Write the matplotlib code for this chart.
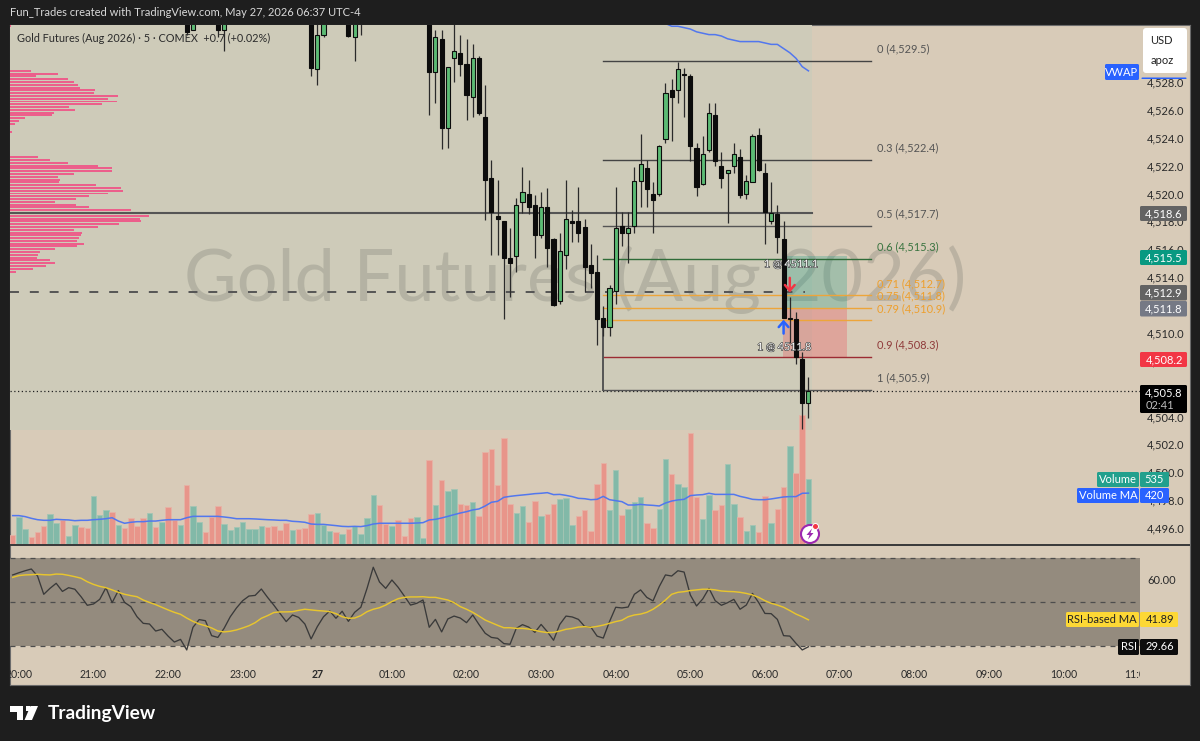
import matplotlib
matplotlib.use("Agg")
import matplotlib.pyplot as plt
from matplotlib.patches import Circle, FancyBboxPatch, Polygon, Rectangle
from matplotlib.transforms import Bbox
import matplotlib.patheffects as pe

plt.rcParams["font.family"] = ["Lato", "DejaVu Sans"]

# candles, top of the chart cuts some of them off
bar_idx = [27, 28, 32, 33, 47, 48, 49, 53, 54, 55] + list(range(66, 128))
opens = [4534, 4531.7, 4534, 4531.7, 4535, 4528.9, 4531.4, 4534, 4531.2, 4534,
         4533, 4528.7, 4531.1, 4524.7, 4529.7, 4530.1, 4529.3, 4526.9, 4529.7, 4525.5,
         4521.1, 4518.4, 4518.0, 4515.4, 4515.5, 4519.4, 4520.0, 4519.2, 4517.0, 4519.0,
         4516.7, 4512.3, 4515.6, 4518.0, 4518.0, 4517.6, 4514.9, 4514.4, 4511.1, 4510.4,
         4513.0, 4517.7, 4517.2, 4517.7, 4520.9, 4521.8, 4520.0, 4520.0, 4523.9, 4527.4,
         4527.4, 4528.6, 4528.4, 4523.3, 4520.7, 4523.1, 4525.6, 4522.0, 4521.5, 4522.0,
         4522.6, 4520.0, 4520.8, 4524.2, 4521.5, 4518.0, 4518.5, 4516.7, 4511.0, 4511.0,
         4508.1, 4505.0]
highs = [4535, 4534, 4535, 4534, 4536, 4534, 4534, 4535, 4534, 4535,
         4534, 4531.7, 4531.7, 4529.1, 4533, 4531.4, 4531.1, 4530.7, 4529.9, 4527.8,
         4522.4, 4521.0, 4518.0, 4517.5, 4519.7, 4521.9, 4521.0, 4519.9, 4520.1, 4520.4,
         4516.8, 4517.2, 4521.0, 4518.8, 4520.5, 4518.2, 4516.4, 4515.6, 4511.9, 4513.4,
         4520.5, 4518.7, 4518.7, 4521.9, 4524.3, 4522.4, 4520.8, 4523.5, 4527.9, 4528.2,
         4529.4, 4529.0, 4528.6, 4523.6, 4524.1, 4526.5, 4526.5, 4523.0, 4521.7, 4523.6,
         4523.2, 4521.3, 4524.3, 4524.7, 4522.2, 4520.8, 4519.2, 4518.0, 4512.6, 4511.5,
         4508.6, 4506.8]
lows = [4531.4, 4531.7, 4531.2, 4530.2, 4528.4, 4527.8, 4531.2, 4531.2, 4529.5, 4531.4,
        4525.6, 4526.5, 4523.2, 4523.3, 4528.0, 4528.4, 4525.3, 4525.5, 4525.6, 4518.1,
        4515.6, 4515.6, 4511.0, 4512.6, 4514.4, 4518.6, 4518.5, 4515.4, 4516.8, 4514.7,
        4511.9, 4512.1, 4514.6, 4516.5, 4516.5, 4512.9, 4513.2, 4509.1, 4509.8, 4509.8,
        4512.1, 4516.2, 4515.0, 4517.2, 4519.0, 4519.0, 4517.2, 4519.8, 4523.6, 4523.8,
        4526.5, 4525.5, 4522.3, 4519.8, 4520.6, 4523.0, 4522.0, 4520.4, 4517.9, 4521.5,
        4519.7, 4519.6, 4520.8, 4521.6, 4516.4, 4517.8, 4515.7, 4511.1, 4509.3, 4507.8,
        4503.1, 4503.9]
closes = [4531.6, 4533, 4531.7, 4533, 4529.0, 4531.4, 4533, 4531.3, 4533, 4533,
          4528.7, 4531.2, 4524.7, 4529.1, 4530.2, 4529.3, 4527.1, 4529.7, 4525.8, 4521.0,
          4518.7, 4518.2, 4515.4, 4515.0, 4519.2, 4520.1, 4519.0, 4517.0, 4519.0, 4516.1,
          4512.0, 4515.9, 4518.2, 4517.9, 4517.2, 4514.7, 4514.3, 4511.0, 4510.4, 4513.2,
          4517.5, 4517.2, 4517.5, 4520.9, 4522.1, 4520.3, 4519.5, 4523.4, 4527.2, 4526.9,
          4528.9, 4528.5, 4523.4, 4520.5, 4522.8, 4525.8, 4522.3, 4521.1, 4521.7, 4522.8,
          4519.9, 4520.9, 4524.1, 4521.7, 4518.7, 4518.6, 4516.9, 4511.1, 4511.1, 4508.3,
          4505.0, 4505.8]

# bars -1 .. 127
volume = [81, 230, 127, 65, 105, 154, 251, 178, 205, 73, 162, 149, 140, 394, 243, 284, 265, 162, 140, 216,
          154, 216, 259, 149, 186, 305, 205, 162, 483, 313, 186, 105, 230, 313, 170, 119, 149, 186, 127, 127,
          154, 149, 154, 119, 178, 119, 127, 140, 251, 259, 162, 111, 103, 89, 127, 154, 89, 221, 408, 324,
          170, 154, 200, 73, 221, 230, 59, 689, 324, 527, 437, 454, 332, 324, 346, 238, 751, 778, 483, 867,
          332, 259, 313, 186, 356, 238, 251, 332, 373, 378, 162, 238, 284, 111, 497, 667, 284, 608, 246, 289,
          346, 386, 178, 135, 289, 697, 572, 497, 470, 905, 392, 213, 408, 284, 321, 653, 332, 224, 111, 162,
          105, 394, 178, 289, 467, 802, 586, 1053, 535]
volume_dir = list("rggrrrggrg" "grrgggrgrr" "rrgrgrrgrg" "grrrgggggg" "grrrrgrrrg"
                  "ggrgrggggr" "rgrrrgg"
                  "rgrggrrgrr" "rrrrggrrgr" "rgggrrrrrg" "grggg" "rrggrggrrg" "grrggrggrr" "grrgrrg")
volume_ma = [238, 238, 230, 216, 205, 200, 200, 208, 205, 203, 197, 200, 200, 205, 208, 213, 221, 194, 176, 184,
             189, 189, 194, 194, 200, 205, 205, 205, 221, 232, 232, 232, 232, 232, 227, 221, 213, 213, 213, 211,
             208, 205, 203, 200, 200, 192, 189, 184, 170, 167, 167, 162, 157, 151, 149, 151, 149, 157, 170, 176,
             176, 176, 176, 176, 176, 178, 181, 203, 208, 219, 232, 246, 259, 270, 284, 292, 316, 346, 354, 386,
             394, 400, 405, 410, 416, 419, 424, 408, 410, 402, 392, 378, 375, 367, 370, 394, 367, 359, 351, 324,
             324, 329, 324, 321, 316, 340, 356, 365, 370, 400, 405, 408, 419, 410, 410, 410, 410, 394, 383, 370,
             367, 367, 373, 381, 389, 392, 392, 419, 420]

rsi = [62.3, 63.3, 64.2, 65.0, 61.8, 53.5, 56.2, 58.5, 54.8, 56.5, 55.8, 52.4, 48.5, 49.1, 51.2, 56.5, 49.7, 55.2, 49.8, 47.9,
       43.3, 40.3, 40.0, 36.8, 37.6, 34.5, 31.8, 33.0, 28.2, 38.5, 42.0, 41.5, 34.7, 33.9, 38.0, 43.3, 47.3, 50.6, 52.7, 53.0,
       55.9, 52.1, 48.6, 44.8, 41.1, 44.1, 43.0, 40.0, 33.2, 38.8, 43.3, 45.9, 42.6, 45.8, 41.2, 45.3, 47.6, 56.2, 65.8, 59.1,
       56.2, 60.0, 56.7, 52.7, 48.6, 49.4, 50.9, 38.5, 42.1, 36.4, 42.3, 43.6, 42.7, 40.6, 44.1, 39.8, 35.8, 33.9, 33.5, 31.1,
       30.8, 38.0, 39.7, 38.6, 36.2, 39.8, 36.5, 32.6, 39.8, 43.6, 43.2, 42.1, 38.9, 38.6, 34.5, 33.6, 41.1, 47.6, 47.3, 47.7,
       53.5, 55.5, 52.1, 50.5, 57.0, 62.3, 61.8, 64.2, 63.6, 53.2, 48.2, 51.4, 56.2, 50.6, 48.5, 49.7, 51.2, 46.7, 48.6, 53.9,
       49.7, 44.8, 44.7, 42.1, 34.7, 34.5, 31.2, 28.2, 29.66]
rsi_ma = [61.2, 62.0, 62.3, 62.4, 62.6, 62.4, 62.3, 62.7, 62.6, 62.1, 61.5, 60.8, 59.2, 58.0, 57.1, 56.5, 55.5, 54.4, 53.5, 52.9,
          52.4, 50.9, 49.8, 48.8, 47.6, 46.4, 45.3, 44.4, 42.7, 41.2, 40.0, 39.2, 38.2, 36.8, 36.4, 36.7, 37.3, 38.2, 39.2, 40.6,
          42.6, 43.8, 45.2, 45.5, 45.5, 45.6, 46.2, 46.7, 46.4, 46.1, 45.9, 45.6, 44.7, 43.3, 42.6, 42.7, 43.8, 45.6, 46.7, 47.4,
          48.6, 50.2, 51.5, 52.1, 52.3, 52.3, 52.4, 52.1, 52.1, 51.5, 50.9, 49.7, 47.9, 46.7, 45.3, 43.6, 41.8, 40.6, 39.4, 38.3,
          38.3, 38.0, 38.0, 37.7, 37.1, 36.5, 36.1, 36.2, 36.8, 37.6, 38.0, 38.6, 38.8, 38.5, 38.9, 39.5, 40.3, 41.1, 41.7, 43.3,
          44.1, 44.5, 45.3, 46.7, 48.6, 50.9, 53.5, 54.4, 54.7, 55.2, 55.5, 55.8, 55.8, 55.5, 55.0, 54.8, 54.7, 54.4, 53.9, 53.2,
          52.1, 50.6, 49.4, 48.6, 47.6, 46.1, 44.5, 43.3, 41.89]

# bars 104 .. 127, the rest of the line is above the chart
vwap_x = list(range(104, 128))
vwap = [4532.2, 4532.0, 4532.0, 4531.9, 4531.8, 4531.6, 4531.5, 4531.4, 4531.4, 4531.3, 4531.1, 4531.0, 4530.9,
        4530.9, 4530.9, 4530.9, 4530.8, 4530.7, 4530.7, 4530.4, 4530.1, 4529.7, 4529.1, 4528.8]

# left side volume profile
profile_prices = [4532.0, 4528.8, 4528.6, 4528.4, 4528.2, 4528.0, 4527.8, 4527.6, 4527.4, 4527.2, 4527.0, 4526.8,
                  4526.6, 4526.4, 4526.2, 4526.0, 4525.8, 4525.6, 4525.4, 4525.2, 4525.0, 4524.4, 4522.6, 4522.4,
                  4522.2, 4522.0, 4521.8, 4521.6, 4521.4, 4521.2, 4521.0, 4520.8, 4520.6, 4520.4, 4520.2, 4520.0,
                  4519.8, 4519.6, 4519.4, 4519.2, 4519.0, 4518.8, 4518.6, 4518.4, 4518.2, 4518.0, 4517.8, 4517.6,
                  4517.4, 4517.2, 4517.0, 4516.8, 4516.6, 4516.4, 4516.2, 4516.0, 4515.8, 4515.6, 4515.4, 4515.2,
                  4515.0, 4514.8, 4514.6, 4514.4]
profile_sizes = [3, 64, 143, 78, 174, 193, 204, 210, 254, 251, 325, 294, 320, 275, 177, 196, 132, 125, 45, 28,
                 15, 7, 84, 121, 174, 265, 306, 306, 193, 144, 149, 147, 259, 334, 339, 294, 238, 199, 136, 199,
                 238, 364, 400, 416, 391, 394, 328, 265, 193, 215, 213, 207, 202, 221, 202, 136, 91, 84, 81, 119,
                 136, 108, 70, 18]

fib_ratios = ["0", "0.3", "0.5", "0.6", "0.71", "0.75", "0.79", "0.9", "1"]
fib_prices = [4529.5, 4522.4, 4517.7, 4515.3, 4512.7, 4511.8, 4510.9, 4508.3, 4505.9]
fib_colors = ["#444444", "#444444", "#555555", "#2f6b38", "#eda53a", "#eda53a", "#eda53a", "#9c2b33", "#555555"]
fib_text_colors = ["#555555", "#555555", "#555555", "#3a7440", "#ee9f2c", "#ee9f2c", "#ee9f2c", "#8f3a3a", "#555555"]

time_ticks = [0, 12, 24, 36, 48, 60, 72, 84, 96, 108, 120, 132, 144, 156, 168, 180]
time_labels = ["20:00", "21:00", "22:00", "23:00", "27", "01:00", "02:00", "03:00", "04:00", "05:00", "06:00",
               "07:00", "08:00", "09:00", "10:00", "11:00"]
price_ticks = [4496, 4498, 4500, 4502, 4504, 4506, 4508, 4510, 4512, 4514, 4516, 4518, 4520, 4522, 4524, 4526, 4528]

WIDTH, HEIGHT = 1200, 741
BG = "#d8cbb8"
SESSION = "#cecbb9"
DARK = "#1e1e1e"
XLIM = (-1.43, 180.33)
PRICE_LIM = (4494.78, 4532.09)
TICK_SIZE = 8

fig = plt.figure(figsize=(12, 7.41), dpi=100, facecolor=DARK)


def axes_px(x0, y0, x1, y1, **kw):
    # axes from screen pixels, y counted from the top
    return fig.add_axes([x0 / WIDTH, 1 - y1 / HEIGHT, (x1 - x0) / WIDTH, (y1 - y0) / HEIGHT], **kw)


def fx(x):
    return x / WIDTH


def fy(y):
    return 1 - y / HEIGHT


def box(x0, y0, x1, y1, color, z=20, round_px=1.5):
    fig.add_artist(FancyBboxPatch((fx(x0), fy(y1)), (x1 - x0) / WIDTH, (y1 - y0) / HEIGHT,
                                  boxstyle="round,pad=0,rounding_size=%f" % (round_px / WIDTH),
                                  mutation_aspect=WIDTH / HEIGHT, transform=fig.transFigure,
                                  fc=color, ec="none", zorder=z))


def label(x, y, s, color="white", size=TICK_SIZE, ha="center", weight="normal", z=21):
    fig.text(fx(x), fy(y), s, color=color, fontsize=size, ha=ha, va="center", fontweight=weight, zorder=z)


# frame and panes
ax_frame = axes_px(10, 25, 1190, 685, zorder=0, facecolor=BG)
ax_frame.set_xticks([])
ax_frame.set_yticks([])
for s in ax_frame.spines.values():
    s.set_color("#6b6b6b")
    s.set_linewidth(0.8)

ax_under = axes_px(10, 25, 1140, 545, zorder=1)
ax_under.patch.set_visible(False)
ax_under.axis("off")
ax_under.set_xlim(XLIM)
ax_under.set_ylim(PRICE_LIM)
ax_under.fill_between([XLIM[0], 127.5], 4503.0, PRICE_LIM[1], color=SESSION, lw=0)

ax_vol = axes_px(10, 25, 1140, 545, zorder=2)
ax_vol.patch.set_visible(False)
ax_vol.axis("off")
ax_vol.set_xlim(XLIM)
ax_vol.set_ylim(0, 4212)
vol_x = list(range(-1, 128))
vol_colors = ["#82b9a8" if d == "g" else "#e8958a" for d in volume_dir]
vol_edges = ["#a4c5b4" if d == "g" else "#e6b3a6" for d in volume_dir]
ax_vol.bar(vol_x, volume, width=0.88, color=vol_colors, edgecolor=vol_edges, linewidth=0.6)
ax_vol.plot(vol_x, volume_ma, color="#5277ee", lw=1.1)

ax = axes_px(10, 25, 1140, 545, zorder=3)
ax.patch.set_visible(False)
ax.set_xlim(XLIM)
ax.set_ylim(PRICE_LIM)
for s in ax.spines.values():
    s.set_visible(False)
ax.set_xticks([])
ax.yaxis.tick_right()
ax.set_yticks(price_ticks)
ax.set_yticklabels(["{:,.1f}".format(p) for p in price_ticks])
ax.tick_params(axis="y", length=0, pad=5, labelsize=TICK_SIZE, labelcolor="#2a2a2a")

ax_under.text(0.5, 0.5105, "Gold Futures (Aug 2026)", transform=ax_under.transAxes, ha="center", va="center",
              fontsize=52, color="#6f7268", alpha=0.27, zorder=5)

# volume profile on its own x scale, below the price axes
ax_prof = axes_px(10, 25, 1140, 545, zorder=2.5)
ax_prof.patch.set_visible(False)
ax_prof.axis("off")
ax_prof.set_xlim(0, 3390)
ax_prof.set_ylim(PRICE_LIM)
ax_prof.barh(profile_prices, profile_sizes, height=0.14, color="#ec5f8b", linewidth=0)

# horizontal levels
ax.plot([XLIM[0], 127.5], [4518.6, 4518.6], color="#555555", lw=1.5, zorder=2)
ax.plot([XLIM[0], 126.5], [4512.9, 4512.9], color="#555555", lw=1.4, dashes=(4.6, 5.6), zorder=2)
ax.plot(list(XLIM), [4505.8, 4505.8], color="#222222", lw=0.9, dashes=(1, 2), zorder=2)

# long position box
ax.fill_between([122.9, 133.2], 4511.8, 4515.5, color="#089981", alpha=0.25, lw=0, zorder=1.5)
ax.fill_between([122.9, 133.2], 4508.2, 4511.8, color="#f23645", alpha=0.25, lw=0, zorder=1.5)

# fib retracement
for ratio, price, col, tcol in zip(fib_ratios, fib_prices, fib_colors, fib_text_colors):
    ax.plot([94, 137], [price, price], color=col, lw=1.0, zorder=2.2)
    ax.annotate("%s (%s)" % (ratio, "{:,.1f}".format(price)), (138, price), xytext=(0, 8.5),
                textcoords="offset points", color=tcol, fontsize=7.9, va="center", zorder=2.2)
ax.plot([94, 94], [4510.4, 4505.9], color="#555555", lw=1.4, zorder=2.2)

# candles
for i, o, h, l, c in zip(bar_idx, opens, highs, lows, closes):
    up = c >= o
    ax.plot([i, i], [l, h], color="#2a2a2a", lw=0.9, solid_capstyle="butt", zorder=3)
    ax.bar(i, abs(c - o), bottom=min(o, c), width=0.66, color="#5cbb74" if up else "#0c0c0c",
           edgecolor="#0c0c0c", linewidth=0.8, zorder=3.2)

ax.plot(vwap_x, vwap, color="#5277ee", lw=1.1, zorder=3.4)

# trade marks
arrow_style = "->,head_width=0.35,head_length=0.4"
ax.annotate("", xy=(124, 4512.9), xytext=(124, 4513.95), zorder=4,
            arrowprops=dict(arrowstyle=arrow_style, color="#f23645", lw=1.8, shrinkA=0, shrinkB=0))
ax.annotate("", xy=(123, 4510.95), xytext=(123, 4509.95), zorder=4,
            arrowprops=dict(arrowstyle=arrow_style, color="#2962ff", lw=1.8, shrinkA=0, shrinkB=0))
shadow = [pe.withStroke(linewidth=0.8, foreground="#333333")]
ax.text(124.2, 4514.95, "1 @ 4511.1", color="white", fontsize=7.7, ha="center", va="center", zorder=4, path_effects=shadow)
ax.text(123.1, 4509.0, "1 @ 4511.8", color="white", fontsize=7.7, ha="center", va="center", zorder=4, path_effects=shadow)

# rsi pane with the time scale under it
ax_rsi = axes_px(10, 546, 1140, 659, zorder=3)
ax_rsi.patch.set_visible(False)
ax_rsi.set_xlim(XLIM)
ax_rsi.set_ylim(24.09, 75.45)
for s in ax_rsi.spines.values():
    s.set_visible(False)
ax_rsi.axhspan(30, 70, color="#948b7e", lw=0)
for level in (30, 50, 70):
    ax_rsi.axhline(level, color="#4d4d4d", lw=0.9, dashes=(4, 4))
ax_rsi.plot(vol_x, rsi, color="#3a3a3a", lw=0.95)
ax_rsi.plot(vol_x, rsi_ma, color="#e8c52e", lw=1.05)
ax_rsi.yaxis.tick_right()
ax_rsi.set_yticks([60])
ax_rsi.set_yticklabels(["60.00"])
ax_rsi.tick_params(axis="y", length=0, pad=5, labelsize=TICK_SIZE, labelcolor="#2a2a2a")
ax_rsi.set_xticks(time_ticks)
ax_rsi.set_xticklabels(time_labels)
ax_rsi.tick_params(axis="x", length=0, pad=7, labelsize=7.6, labelcolor="#2a2a2a")
clip = Bbox.from_extents(10, 0, 1140, HEIGHT)
for lab in ax_rsi.get_xticklabels():
    lab.set_clip_box(clip)
    lab.set_clip_on(True)
    if lab.get_text() == "27":
        lab.set_fontweight("bold")

# pane separator
fig.add_artist(Rectangle((fx(10), fy(545.6)), 1180 / WIDTH, 1.2 / HEIGHT, transform=fig.transFigure,
                         fc="#3c3c3c", ec="none", zorder=6))

# header texts
label(10, 13, "Fun_Trades created with TradingView.com, May 27, 2026 06:37 UTC-4", color="#d9d9d9", size=8, ha="left")
label(17, 38, "Gold Futures (Aug 2026) \u00b7 5 \u00b7 COMEX  +0.7 (+0.02%)", color="#2b2b2b", size=7.85, ha="left")

# price scale badges
box(1143, 28, 1187, 73, "white", round_px=3)
label(1161, 40, "USD", color="#222222")
label(1162, 61, "apoz", color="#222222")
box(1105, 64, 1139, 80, "#2962ff")
label(1122, 72, "VWAP")
box(1141, 77.5, 1187, 79, "#2962ff")
for top, bottom, col, txt in [(206, 221, "#636363", "4,518.6"), (250, 265, "#089981", "4,515.5"),
                              (285, 300.5, "#636363", "4,512.9"), (301, 316.5, "#757985", "4,511.8"),
                              (352, 367, "#f23645", "4,508.2")]:
    box(1140, top, 1187, bottom, col)
    label(1164, (top + bottom) / 2, txt)
box(1140, 385, 1187, 413, "#000000")
label(1164, 392.5, "4,505.8")
label(1160, 405, "02:41", color="#bdbdbd")

box(1097, 472, 1139, 487, "#22a08d")
box(1140, 472, 1169, 487, "#22a08d")
label(1118, 479.5, "Volume")
label(1154.5, 479.5, "535")
box(1077, 488, 1139, 503, "#2962ff")
box(1140, 488, 1169, 503, "#2962ff")
label(1108, 495.5, "Volume MA")
label(1154.5, 495.5, "420")

box(1066, 612, 1139, 627, "#fdd835")
box(1140, 612, 1178, 627, "#fdd835")
label(1102, 619.5, "RSI-based MA", color="#222222")
label(1160, 619.5, "41.89", color="#222222")
box(1118, 639, 1139, 655, "#0d0d0d")
box(1140, 639, 1178, 655, "#0d0d0d")
label(1128.5, 647, "RSI")
label(1160, 647, "29.66")

# alert icon
circ_ax = axes_px(798, 522, 824, 548, zorder=7)
circ_ax.set_xlim(798, 824)
circ_ax.set_ylim(548, 522)
circ_ax.axis("off")
circ_ax.add_patch(Circle((810, 534), 9, fc="white", ec="#9c27b0", lw=1.5))
circ_ax.add_patch(Polygon([(812, 528.5), (806.5, 535), (809.5, 535), (808, 539.5), (813.5, 533), (810.5, 533)],
                          fc="#9c27b0", ec="none"))
circ_ax.add_patch(Circle((815.5, 526.5), 3, fc="#f23645", ec="white", lw=0.7))

# tradingview logo
for pts in ([(10, 706), (23, 706), (23, 720), (16.5, 720), (16.5, 712), (10, 712)],
            [(30.5, 706), (38, 706), (32, 720), (24.5, 720)]):
    fig.add_artist(Polygon([(fx(a), fy(b)) for a, b in pts], transform=fig.transFigure, fc="white", ec="none", zorder=20))
fig.add_artist(Polygon([(fx(25.5), fy(706)), (fx(29.5), fy(706)), (fx(29.5), fy(710.5)), (fx(25.5), fy(710.5))],
                       transform=fig.transFigure, fc="white", ec="none", zorder=20))
label(48, 713, "TradingView", size=13.8, ha="left", weight="bold", color="white")

fig.savefig("out.png", dpi=100, facecolor=fig.get_facecolor())
